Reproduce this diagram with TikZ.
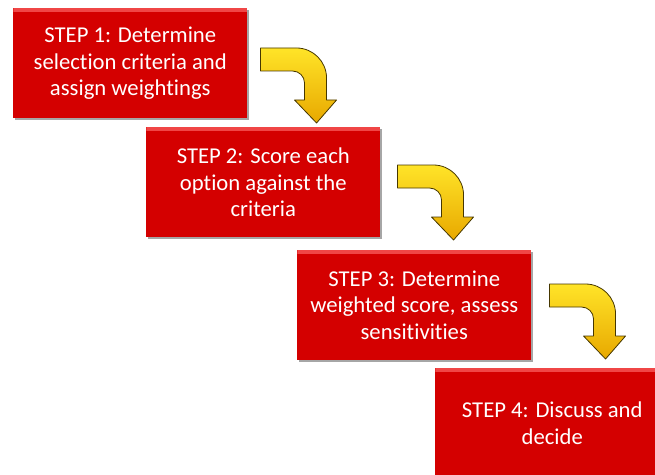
\documentclass[tikz,border=0pt]{standalone}
\usepackage{fontspec}
\setmainfont{Carlito}[Ligatures={NoCommon}]
\usetikzlibrary{calc,shadows}

\definecolor{stepred}{RGB}{212,0,0}
\definecolor{steptop}{RGB}{240,70,70}
\definecolor{arrowlight}{RGB}{255,228,40}
\definecolor{arrowdark}{RGB}{232,168,0}
\definecolor{arrowedge}{RGB}{70,55,0}

\tikzset{
  stepbox/.style={rectangle, fill=stepred, text=white, align=center,
    minimum width=175.5pt, minimum height=82.5pt, inner sep=0pt,
    font=\fontsize{17}{20}\selectfont,
    drop shadow={shadow xshift=1.5pt, shadow yshift=-1.5pt, fill=black, opacity=0.35},
    path picture={\fill[steptop] (path picture bounding box.north west)
      rectangle ([yshift=-2.5pt]path picture bounding box.north east);}},
  bent arrow/.pic={
    \shadedraw[top color=arrowlight, bottom color=arrowdark, draw=arrowedge,
      line width=0.6pt, line join=round]
      (0,0) -- (36,0) .. controls (52.5,0) and (66,13.5) .. (66,30)
      -- (66,52) -- (76,52) -- (56,75) -- (34,52) -- (44,52) -- (44,35)
      .. controls (44,28.4) and (38.6,23) .. (32,23) -- (0,23) -- cycle;
  }
}

\begin{document}
\begin{tikzpicture}[x=0.75pt, y=-0.75pt, line cap=round, line join=round]

\useasboundingbox (0,0) rectangle (655,474);
\clip (0,0) rectangle (655,474);

% ---------- Steps ----------
\node[stepbox, anchor=north west] (s1) at (13,8)
  {STEP 1: Determine\\selection criteria and\\assign weightings};
\node[stepbox, anchor=north west] (s2) at (146,127)
  {STEP 2: Score each\\option against the\\criteria};
\node[stepbox, anchor=north west] (s3) at (297,250)
  {STEP 3: Determine\\weighted score, assess\\sensitivities};
\node[stepbox, anchor=north west] (s4) at (435,368)
  {STEP 4: Discuss and\\decide};

% ---------- Bent arrows ----------
\pic at ($(s1.north east)+(13,40)$) {bent arrow};
\pic at ($(s2.north east)+(17,38)$) {bent arrow};
\pic at ($(s3.north east)+(18,34)$) {bent arrow};

\end{tikzpicture}
\end{document}
